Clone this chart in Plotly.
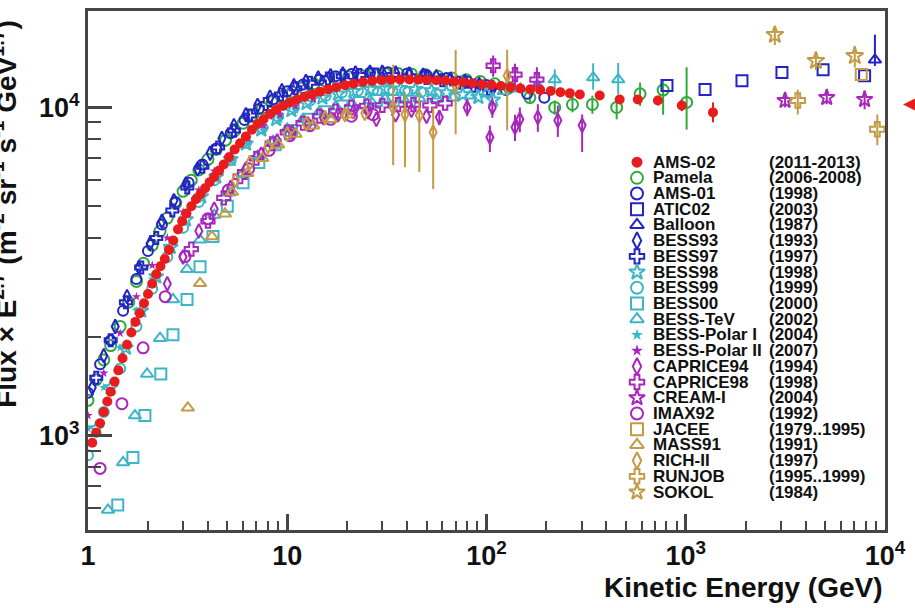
import plotly.graph_objects as go

# ---------------- data (kinetic energy in GeV, flux x E^2.7) ----------------
AMS02_E = [1.05, 1.10, 1.15, 1.20, 1.25, 1.30, 1.36, 1.42, 1.49, 1.57, 1.65, 1.73, 1.82, 1.91, 2.0,
           2.1, 2.2, 2.31, 2.43, 2.55, 2.68, 2.83, 2.97, 3.12, 3.3, 3.48, 3.67, 3.87, 4.08, 4.3,
           4.55, 4.8, 5.1, 5.45, 5.8, 6.2, 6.65, 7.1, 7.6, 8.2, 8.8, 9.5, 10.3, 11.2, 12.2, 13.3,
           14.6, 16, 17.6, 19.5, 21.5, 24, 26.7, 29.7, 33, 36.8, 41, 45.6, 50.5, 56, 62, 69, 76.5,
           85, 95, 106, 118, 132, 148, 166, 186, 210, 235, 262, 294, 370, 466, 575, 725, 955, 1370]
AMS02_F = [950, 1020, 1090, 1180, 1270, 1360, 1460, 1580, 1720, 1890, 2060, 2220, 2360, 2530, 2700,
           2900, 3100, 3280, 3450, 3680, 3930, 4250, 4500, 4750, 5000, 5250, 5450, 5670, 5920, 6150,
           6420, 6700, 7050, 7450, 7780, 8150, 8550, 8900, 9200, 9550, 9850, 10100, 10350, 10580, 10780, 10980,
           11170, 11350, 11520, 11680, 11820, 11950, 12050, 12110, 12150, 12170, 12170, 12160, 12140, 12110, 12060, 12000, 11930,
           11850, 11770, 11700, 11620, 11520, 11430, 11360, 11300, 11220, 11130, 11040, 10950, 10870, 10570, 10570, 10500, 10140, 9660]
AMS02_EP = [0] * (len(AMS02_E) - 7) + [150, 200, 250, 300, 350, 400, 700]
AMS02_EM = [0] * (len(AMS02_E) - 7) + [150, 200, 250, 300, 350, 400, 650]

PAMELA_E = [1.0, 1.1, 1.2, 1.3, 1.45, 1.6, 1.75, 1.9, 2.1, 2.3, 2.5, 2.75, 3.0, 3.3, 3.6, 4.0, 4.4,
            4.9, 5.4, 6.0, 6.7, 7.5, 8.4, 9.4, 10.6, 12, 13.6, 15.5, 17.7, 20.3, 23.3, 27, 31, 36,
            42, 49, 57, 67, 79, 93, 110, 130, 165, 220, 270, 340, 450, 590, 770, 1010]
PAMELA_F = [1280, 1480, 1700, 1880, 2150, 2550, 2950, 3350, 3800, 4200, 4600, 5100, 5550, 6000, 6450, 6950, 7450,
            7950, 8450, 8950, 9450, 9950, 10400, 10800, 11150, 11500, 11800, 12050, 12250, 12400, 12550, 12650, 12700, 12700,
            12650, 12600, 12450, 12300, 12150, 12000, 11800, 11500, 10720, 10000, 10210, 10210, 10000, 11000, 11300, 10360]
PAMELA_EP = [0] * 42 + [400, 500, 550, 650, 800, 900, 800, 2900]
PAMELA_EM = [0] * 42 + [400, 500, 550, 650, 800, 900, 1800, 1800]

AMS01_E = [1.0, 1.15, 1.3, 1.5, 1.75, 2.0, 2.35, 2.75, 3.2, 3.75, 4.4, 5.2, 6.1, 7.2, 8.5, 10, 12,
           14.5, 17.5, 21, 26, 32, 40, 50, 63, 80, 100, 125, 160, 195]
AMS01_F = [1350, 1650, 1950, 2400, 3000, 3650, 4400, 5150, 5900, 6700, 7500, 8350, 9150, 9900, 10600, 11200, 11750,
           12150, 12450, 12650, 12750, 12800, 12700, 12550, 12300, 12000, 11700, 11300, 11000, 10700]

ATIC_E = [805, 1250, 1915, 3040, 4890, 7900]
ATIC_F = [11660, 11340, 12070, 12770, 13030, 12500]

BALLOON_E = [8900]
BALLOON_F = [13970]
BALLOON_EP = [2700]
BALLOON_EM = [600]

BESS93_E = [1.05, 1.2, 1.37, 1.57, 1.8, 2.05, 2.35, 2.7, 3.1, 3.55, 4.1, 4.7, 5.4, 6.2, 7.1, 8.2, 9.4,
            10.8, 12.4, 14.3, 16.5, 19, 22, 26, 30, 35, 41, 48, 56, 66, 78, 92, 108]
BESS93_F = [1400, 1750, 2150, 2650, 3250, 3850, 4500, 5200, 5850, 6500, 7250, 8050, 8800, 9500, 10150, 10750, 11250,
            11650, 12000, 12300, 12500, 12650, 12750, 12800, 12800, 12750, 12650, 12550, 12400, 12200, 12000, 11750, 11500]

BESS97_E = [1.1, 1.3, 1.55, 1.85, 2.2, 2.65, 3.15, 3.75, 4.5, 5.4, 6.5, 7.8, 9.3, 11, 13, 16, 19,
            23, 28, 34, 41, 50, 60, 72, 86, 103]
BESS97_F = [1500, 1950, 2550, 3250, 4000, 4850, 5700, 6600, 7550, 8500, 9450, 10250, 10950, 11450, 11900, 12250, 12450,
            12550, 12600, 12550, 12450, 12300, 12100, 11900, 11650, 11400]

BESS98_E = [1.1, 1.3, 1.55, 1.85, 2.2, 2.6, 3.1, 3.7, 4.4, 5.2, 6.2, 7.4, 8.8, 10.5, 12.5, 15, 18,
            21.5, 26, 31, 37, 44, 53, 63, 76, 91, 108]
BESS98_F = [1050, 1400, 1850, 2400, 3050, 3750, 4550, 5350, 6150, 6950, 7750, 8550, 9200, 9800, 10300, 10700, 11000,
            11200, 11350, 11400, 11400, 11350, 11250, 11100, 10950, 10750, 10550]

BESS99_E = [1.0, 1.2, 1.45, 1.75, 2.1, 2.5, 3.0, 3.6, 4.3, 5.2, 6.2, 7.5, 9, 10.8, 13, 15.6, 18.8,
            22.6, 27, 32.5, 39, 47, 56]
BESS99_F = [870, 1180, 1600, 2150, 2800, 3500, 4300, 5150, 6000, 6900, 7800, 8650, 9400, 10000, 10500, 10850, 11100,
            11250, 11300, 11300, 11250, 11150, 11000]

BESS00_E = [1.41, 1.68, 1.93, 2.32, 2.67, 3.14, 3.65, 4.24, 5.0, 6.0, 7.2, 8.7, 10.5, 12.8, 15.5, 19,
            23, 28, 34, 41]
BESS00_F = [614, 857, 1150, 1540, 2030, 2600, 3270, 4040, 5000, 5900, 6800, 7700, 8500, 9200, 9700, 10100,
            10350, 10500, 10500, 10450]

BESSTEV_E = [1.26, 1.50, 1.72, 1.98, 2.30, 2.67, 3.14, 3.65, 4.3, 5.1, 6.0, 7.1, 8.5, 10, 12, 14.5,
             17.5, 21, 26, 31, 38, 46, 56, 68, 83, 100, 122, 148, 180, 220, 343, 458]
BESSTEV_F = [593, 828, 1150, 1540, 1980, 2600, 3210, 3950, 4700, 5500, 6300, 7100, 7900, 8600, 9200, 9700,
             10050, 10300, 10500, 10600, 10650, 10650, 10600, 10700, 10850, 11000, 11200, 11400, 11700, 12160, 12330, 12160]
BESSTEV_EP = [0] * 29 + [900, 1300, 1500]
BESSTEV_EM = [0] * 29 + [800, 1000, 1200]

BPOL1_E = [1.0, 1.2, 1.45, 1.75, 2.1, 2.5, 3.0, 3.6, 4.3, 5.2, 6.3, 7.6, 9.2, 11]
BPOL1_F = [1050, 1400, 1850, 2400, 3000, 3700, 4450, 5250, 6050, 6900, 7750, 8500, 9200, 9800]

BPOL2_E = [1.0, 1.2, 1.45, 1.75, 2.1, 2.5, 3.0, 3.6, 4.3, 5.2, 6.3, 7.6, 9.2, 11, 13.5]
BPOL2_F = [1150, 1550, 2050, 2650, 3300, 4000, 4800, 5600, 6400, 7200, 8050, 8800, 9500, 10100, 10600]

CAP94_E = [2.5, 3.0, 3.6, 4.3, 5.2, 6.2, 7.4, 8.9, 10.6, 12.7, 15.2, 18, 21.5, 25.5, 28, 35, 42,
           50, 58, 80, 104, 107, 139, 147, 181, 228, 302]
CAP94_F = [2900, 3500, 4200, 4900, 5700, 6500, 7200, 7900, 8400, 8900, 9300, 9500, 9700, 9700, 9200, 9500, 9800,
           9400, 9330, 10000, 8110, 10000, 8700, 9200, 9330, 9130, 8820]
CAP94_EP = [0] * 18 + [500, 600, 700, 700, 800, 800, 900, 1000, 700]
CAP94_EM = [0] * 18 + [500, 600, 800, 700, 800, 800, 900, 1000, 1500]

CAP98_E = [3.3, 4.0, 4.8, 5.8, 7, 8.4, 10, 12, 14.5, 17.5, 21, 25, 30, 36, 43, 52, 62, 108, 139, 179]
CAP98_F = [3700, 4500, 5300, 6150, 7000, 7750, 8400, 8950, 9400, 9750, 10000, 10100, 10150, 10200, 10200, 10150, 10300,
           13400, 12590, 12160]
CAP98_EP = [0] * 17 + [1000, 1000, 1100]
CAP98_EM = [0] * 17 + [1000, 1000, 1100]

CREAM_E = [3150, 5100, 7900]
CREAM_F = [10500, 10720, 10570]
CREAM_EP = [500, 500, 700]
CREAM_EM = [500, 500, 700]

IMAX_E = [1.15, 1.48, 1.89, 2.44, 3.07, 4.0, 5.06, 6.4, 8.1, 10.3, 13, 16.5, 21, 27]
IMAX_F = [794, 1250, 1850, 2650, 3510, 4580, 5600, 6500, 7400, 8200, 8800, 9200, 9400, 9500]

JACEE_E = [7600]
JACEE_F = [12600]

MASS91_E = [3.17, 3.65, 4.19, 4.87, 5.28, 6.3, 7.5, 9, 11, 13.5, 16.5, 20]
MASS91_F = [1215, 2910, 4040, 4740, 5520, 6300, 7000, 7700, 8300, 8800, 9200, 9500]

RICH_E = [5.5, 6.5, 8, 10, 12.5, 15.5, 19.5, 24.5, 34, 39, 46, 54, 70, 127]
RICH_F = [6000, 6800, 7600, 8300, 8900, 9300, 9500, 9600, 10000, 9520, 9460, 8400, 11660, 12500]
RICH_EP = [0] * 8 + [3500, 1600, 1650, 1600, 3300, 2500]
RICH_EM = [0] * 8 + [3330, 2940, 3100, 2760, 3380, 3980]

RUNJOB_E = [3650, 9150]
RUNJOB_F = [10500, 8580]
RUNJOB_EP = [840, 940]
RUNJOB_EM = [980, 910]

SOKOL_E = [2800, 4500, 7050]
SOKOL_F = [16650, 13880, 14360]
SOKOL_EP = [1050, 820, 1040]
SOKOL_EM = [1150, 880, 1130]

NAMES = ["AMS-02", "Pamela", "AMS-01", "ATIC02", "Balloon", "BESS93", "BESS97", "BESS98", "BESS99",
         "BESS00", "BESS-TeV", "BESS-Polar I", "BESS-Polar II", "CAPRICE94", "CAPRICE98", "CREAM-I",
         "IMAX92", "JACEE", "MASS91", "RICH-II", "RUNJOB", "SOKOL"]
YEARS = ["(2011-2013)", "(2006-2008)", "(1998)", "(2003)", "(1987)", "(1993)", "(1997)", "(1998)", "(1999)",
         "(2000)", "(2002)", "(2004)", "(2007)", "(1994)", "(1998)", "(2004)", "(1992)", "(1979..1995)",
         "(1991)", "(1997)", "(1995..1999)", "(1984)"]

# ---------------- styles ----------------
RED = "#e81c1c"
GREEN = "#2eaa3a"
BLUE = "#2323c8"
CYAN = "#3cb6c6"
MAG = "#a826bc"
GOLD = "#c49a44"

SERIES = [
    (AMS02_E, AMS02_F, AMS02_EP, AMS02_EM, "circle", RED, 10),
    (PAMELA_E, PAMELA_F, PAMELA_EP, PAMELA_EM, "circle-open", GREEN, 11),
    (AMS01_E, AMS01_F, None, None, "circle-open", BLUE, 10),
    (ATIC_E, ATIC_F, None, None, "square-open", BLUE, 11),
    (BALLOON_E, BALLOON_F, BALLOON_EP, BALLOON_EM, "triangle-up-open", BLUE, 11),
    (BESS93_E, BESS93_F, None, None, "diamond-tall-open", BLUE, 10),
    (BESS97_E, BESS97_F, None, None, "cross-open", BLUE, 10),
    (BESS98_E, BESS98_F, None, None, "star-open", CYAN, 11),
    (BESS99_E, BESS99_F, None, None, "circle-open", CYAN, 10),
    (BESS00_E, BESS00_F, None, None, "square-open", CYAN, 11),
    (BESSTEV_E, BESSTEV_F, BESSTEV_EP, BESSTEV_EM, "triangle-up-open", CYAN, 11),
    (BPOL1_E, BPOL1_F, None, None, "star", CYAN, 7),
    (BPOL2_E, BPOL2_F, None, None, "star", MAG, 7),
    (CAP94_E, CAP94_F, CAP94_EP, CAP94_EM, "diamond-tall-open", MAG, 10),
    (CAP98_E, CAP98_F, CAP98_EP, CAP98_EM, "cross-open", MAG, 11),
    (CREAM_E, CREAM_F, CREAM_EP, CREAM_EM, "star-open", MAG, 12),
    (IMAX_E, IMAX_F, None, None, "circle-open", MAG, 11),
    (JACEE_E, JACEE_F, None, None, "square-open", GOLD, 11),
    (MASS91_E, MASS91_F, None, None, "triangle-up-open", GOLD, 11),
    (RICH_E, RICH_F, RICH_EP, RICH_EM, "diamond-tall-open", GOLD, 10),
    (RUNJOB_E, RUNJOB_F, RUNJOB_EP, RUNJOB_EM, "cross-open", GOLD, 12),
    (SOKOL_E, SOKOL_F, SOKOL_EP, SOKOL_EM, "star-open", GOLD, 13),
]

FONT = "Liberation Sans, Arial, Helvetica, sans-serif"
AX = "#454545"

fig = go.Figure()

# draw everything except AMS-02 first, AMS-02 on top
order = list(range(1, len(SERIES))) + [0]
for i in order:
    e, f, ep, em, sym, col, sz = SERIES[i]
    err = None
    if ep is not None:
        err = dict(type="data", array=ep, arrayminus=em, color=col, thickness=2, width=0)
    fig.add_trace(go.Scatter(
        x=e, y=f, mode="markers", name=NAMES[i], showlegend=False,
        marker=dict(symbol=sym, size=sz, color=col, line=dict(width=2 if "open" in sym else 0, color=col)),
        error_y=err, cliponaxis=True,
    ))

# custom legend (pixel-like overlay axes)
PLOT_L, PLOT_R, PLOT_T, PLOT_B = 88, 885, 8, 530
ROW0, ROWH = 160, 15.8
MK_X, NAME_X, YEAR_X = 637, 651, 767
for i, (e, f, ep, em, sym, col, sz) in enumerate(SERIES):
    ypix = ROW0 + ROWH * i
    fig.add_trace(go.Scatter(
        x=[MK_X - PLOT_L], y=[PLOT_B - ypix], xaxis="x2", yaxis="y2", mode="markers",
        showlegend=False, hoverinfo="skip", cliponaxis=False,
        marker=dict(symbol=sym, size=(12 if "open" in sym else (11 if sym == "circle" else 9)),
                    color=col, line=dict(width=2 if "open" in sym else 0, color=col)),
    ))
    fig.add_annotation(x=NAME_X - PLOT_L, y=PLOT_B - ypix, xref="x2", yref="y2", text="<b>%s</b>" % NAMES[i],
                       showarrow=False, xanchor="left", yanchor="middle",
                       font=dict(family=FONT, size=17, color="#111"))
    fig.add_annotation(x=YEAR_X - PLOT_L, y=PLOT_B - ypix, xref="x2", yref="y2", text="<b>%s</b>" % YEARS[i],
                       showarrow=False, xanchor="left", yanchor="middle",
                       font=dict(family=FONT, size=17, color="#111"))

# axis titles
fig.add_annotation(x=1.0, y=-0.111, xref="paper", yref="paper", text="<b>Kinetic Energy (GeV)</b>",
                   showarrow=False, xanchor="right", yanchor="middle",
                   font=dict(family=FONT, size=28, color="#111"))
fig.add_annotation(x=(4 - PLOT_L) / (PLOT_R - PLOT_L), y=(PLOT_B - 212) / (PLOT_B - PLOT_T), xref="paper", yref="paper",
                   text="<b>Flux × E<sup>2.7</sup> (m<sup>-2</sup> sr<sup>-1</sup> s<sup>-1</sup> GeV<sup>1.7</sup>)</b>",
                   textangle=-90, showarrow=False, xanchor="center", yanchor="middle",
                   font=dict(family=FONT, size=28, color="#111"))
# red arrow at the right edge
fig.add_annotation(x=(903 - PLOT_L) / (PLOT_R - PLOT_L), y=(PLOT_B - 102) / (PLOT_B - PLOT_T), xref="paper", yref="paper",
                   text="", showarrow=True, ax=18, ay=0, arrowhead=2, arrowsize=1.3, arrowwidth=2.5, arrowcolor="#e81c1c")

XT = [1, 10, 100, 1000, 10000]
XT_TXT = ["1", "10", "10<sup>2</sup>", "10<sup>3</sup>", "10<sup>4</sup>"]
YT = [1000, 10000]
YT_TXT = ["10<sup>3</sup>", "10<sup>4</sup>"]

fig.update_layout(
    width=915, height=608,
    margin=dict(l=PLOT_L, r=915 - PLOT_R, t=PLOT_T, b=608 - PLOT_B),
    paper_bgcolor="white", plot_bgcolor="white",
    font=dict(family=FONT, color="#111"),
    xaxis=dict(type="log", range=[0, 4], showgrid=False, zeroline=False,
               showline=True, linecolor=AX, linewidth=3, mirror=True,
               ticks="inside", ticklen=16, tickwidth=3, tickcolor=AX,
               tickvals=XT, ticktext=XT_TXT,
               tickfont=dict(family=FONT, size=27, color="#111", weight="bold"),
               minor=dict(ticks="inside", ticklen=9, tickwidth=2, tickcolor=AX, dtick="D1", showgrid=False)),
    yaxis=dict(type="log", range=[2.712, 4.294], showgrid=False, zeroline=False,
               showline=True, linecolor=AX, linewidth=3, mirror=True,
               ticks="inside", ticklen=24, tickwidth=3, tickcolor=AX,
               tickvals=YT, ticktext=YT_TXT,
               tickfont=dict(family=FONT, size=27, color="#111", weight="bold"),
               minor=dict(ticks="inside", ticklen=13, tickwidth=2, tickcolor=AX, dtick="D1", showgrid=False)),
    xaxis2=dict(overlaying="x", range=[0, PLOT_R - PLOT_L], visible=False, anchor="y2"),
    yaxis2=dict(overlaying="y", range=[0, PLOT_B - PLOT_T], visible=False, anchor="x2"),
)

fig.write_html("out.html", config={"displayModeBar": False},
               post_script="document.body.style.margin='0';document.body.style.padding='0';")
